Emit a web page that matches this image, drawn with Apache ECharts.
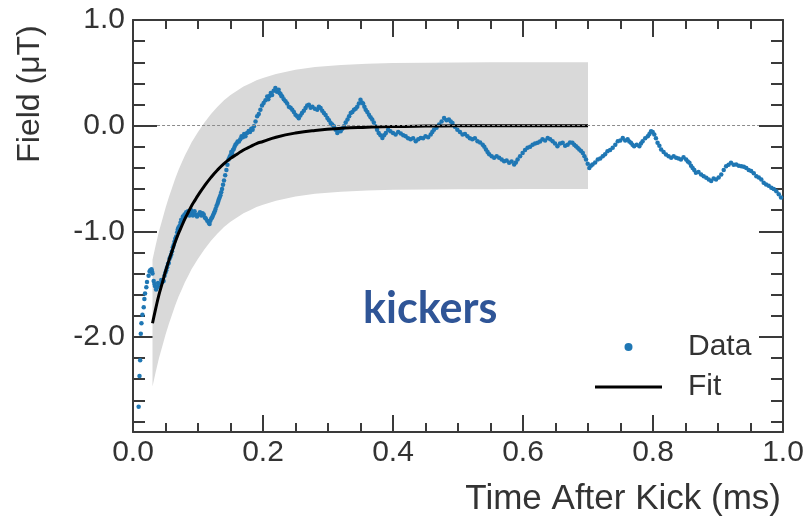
<!DOCTYPE html>
<html>
<head>
<meta charset="utf-8">
<title>Field after kick</title>
<script src="https://cdn.jsdelivr.net/npm/echarts@6/dist/echarts.min.js"></script>
<style>
  html, body { margin: 0; padding: 0; background: #ffffff; }
  #chart { width: 808px; height: 522px; }
</style>
</head>
<body>
<div id="chart"></div>
<script>
// Measured field trace after the kick: [time (ms), field (µT)]
const fieldTrace = [
  [0.0087, -2.66], [0.0100, -2.37], [0.0110, -2.22], [0.0120, -1.97], [0.0130, -1.87],
  [0.0145, -1.79], [0.0165, -1.72], [0.0175, -1.64], [0.0185, -1.59], [0.0205, -1.53],
  [0.0215, -1.48], [0.0240, -1.42], [0.0255, -1.38], [0.0265, -1.37], [0.0285, -1.36],
  [0.0292, -1.38], [0.0300, -1.40], [0.0318, -1.47], [0.0330, -1.50], [0.0340, -1.52],
  [0.0355, -1.55], [0.0370, -1.53], [0.0385, -1.49], [0.0400, -1.51], [0.0420, -1.50],
  [0.0435, -1.46], [0.0450, -1.48], [0.0470, -1.47], [0.0485, -1.42], [0.0500, -1.39],
  [0.0512, -1.37], [0.0525, -1.34], [0.0538, -1.31], [0.0550, -1.30], [0.0562, -1.26],
  [0.0575, -1.24], [0.0588, -1.22], [0.0600, -1.19], [0.0613, -1.15], [0.0626, -1.13],
  [0.0638, -1.10], [0.0650, -1.07], [0.0665, -1.05], [0.0680, -1.01], [0.0690, -0.98],
  [0.0700, -0.965], [0.0715, -0.95], [0.0730, -0.92], [0.0742, -0.89], [0.0755, -0.89],
  [0.0768, -0.86], [0.0780, -0.87], [0.0793, -0.84], [0.0806, -0.86], [0.0818, -0.82],
  [0.0830, -0.84], [0.0845, -0.81], [0.0857, -0.825], [0.0868, -0.85], [0.0880, -0.83],
  [0.0895, -0.80], [0.0910, -0.82], [0.0922, -0.85], [0.0934, -0.83], [0.0947, -0.81],
  [0.0960, -0.84], [0.0985, -0.86], [0.1010, -0.84], [0.1030, -0.82], [0.1050, -0.85],
  [0.1070, -0.83], [0.1088, -0.84], [0.1105, -0.87], [0.1120, -0.88], [0.1142, -0.90],
  [0.1165, -0.92], [0.1178, -0.93], [0.1190, -0.90], [0.1204, -0.88], [0.1217, -0.87],
  [0.1230, -0.85], [0.1245, -0.83], [0.1258, -0.81], [0.1270, -0.79], [0.1285, -0.76],
  [0.1300, -0.74], [0.1310, -0.72], [0.1320, -0.70], [0.1332, -0.68], [0.1345, -0.66],
  [0.1357, -0.63], [0.1370, -0.60], [0.1385, -0.56], [0.1400, -0.52], [0.1418, -0.47],
  [0.1437, -0.42], [0.1453, -0.37], [0.1470, -0.32], [0.1485, -0.30], [0.1500, -0.28],
  [0.1512, -0.25], [0.1525, -0.26], [0.1538, -0.23], [0.1550, -0.22], [0.1563, -0.20],
  [0.1576, -0.18], [0.1593, -0.17], [0.1610, -0.15], [0.1630, -0.15], [0.1650, -0.13],
  [0.1670, -0.10], [0.1690, -0.11], [0.1710, -0.08], [0.1730, -0.10], [0.1755, -0.07],
  [0.1780, -0.05], [0.1800, -0.06], [0.1820, -0.03], [0.1840, -0.04], [0.1860, -0.006],
  [0.1885, 0.04], [0.1910, 0.088], [0.1935, 0.11], [0.1960, 0.15], [0.1985, 0.19],
  [0.2010, 0.214], [0.2038, 0.24], [0.2065, 0.276], [0.2082, 0.25], [0.2100, 0.28],
  [0.2120, 0.31], [0.2140, 0.29], [0.2165, 0.33], [0.2190, 0.356], [0.2215, 0.32],
  [0.2240, 0.34], [0.2255, 0.31], [0.2270, 0.30], [0.2283, 0.28], [0.2296, 0.276],
  [0.2320, 0.25], [0.2347, 0.23], [0.2372, 0.21], [0.2398, 0.18], [0.2424, 0.17],
  [0.2450, 0.15], [0.2475, 0.13], [0.2500, 0.104], [0.2525, 0.09], [0.2550, 0.07],
  [0.2575, 0.095], [0.2600, 0.12], [0.2628, 0.14], [0.2655, 0.167], [0.2680, 0.19],
  [0.2706, 0.198], [0.2733, 0.17], [0.2760, 0.18], [0.2798, 0.16], [0.2835, 0.15],
  [0.2860, 0.18], [0.2886, 0.167], [0.2911, 0.14], [0.2937, 0.12], [0.2963, 0.10],
  [0.2990, 0.073], [0.3015, 0.05], [0.3040, 0.025], [0.3065, 0.01], [0.3090, -0.006],
  [0.3117, -0.04], [0.3143, -0.07], [0.3168, -0.05], [0.3194, -0.054], [0.3220, -0.03],
  [0.3245, -0.006], [0.3272, 0.03], [0.3300, 0.057], [0.3325, 0.09], [0.3350, 0.12],
  [0.3375, 0.13], [0.3400, 0.15], [0.3425, 0.16], [0.3450, 0.18], [0.3475, 0.21],
  [0.3500, 0.245], [0.3520, 0.22], [0.3540, 0.21], [0.3560, 0.18], [0.3580, 0.15],
  [0.3605, 0.13], [0.3630, 0.104], [0.3655, 0.08], [0.3680, 0.057], [0.3705, 0.03],
  [0.3730, -0.006], [0.3755, -0.04], [0.3780, -0.07], [0.3808, -0.09], [0.3837, -0.116],
  [0.3863, -0.09], [0.3890, -0.07], [0.3925, -0.04], [0.3960, -0.054], [0.4000, -0.07],
  [0.4040, -0.085], [0.4080, -0.06], [0.4120, -0.075], [0.4158, -0.09], [0.4195, -0.10],
  [0.4232, -0.12], [0.4270, -0.13], [0.4310, -0.12], [0.4350, -0.148], [0.4388, -0.13],
  [0.4427, -0.116], [0.4463, -0.12], [0.4500, -0.10], [0.4540, -0.11], [0.4580, -0.085],
  [0.4605, -0.06], [0.4630, -0.038], [0.4670, -0.02], [0.4710, 0.01], [0.4748, 0.04],
  [0.4786, 0.073], [0.4823, 0.05], [0.4860, 0.057], [0.4888, 0.04], [0.4915, 0.025],
  [0.4952, -0.01], [0.4990, -0.038], [0.5030, -0.06], [0.5070, -0.085], [0.5108, -0.08],
  [0.5146, -0.10], [0.5183, -0.12], [0.5220, -0.13], [0.5260, -0.12], [0.5300, -0.148],
  [0.5340, -0.16], [0.5380, -0.18], [0.5405, -0.20], [0.5430, -0.226], [0.5455, -0.25],
  [0.5480, -0.27], [0.5518, -0.29], [0.5556, -0.305], [0.5595, -0.29], [0.5633, -0.305],
  [0.5672, -0.32], [0.5710, -0.337], [0.5748, -0.33], [0.5787, -0.352], [0.5825, -0.34],
  [0.5864, -0.368], [0.5890, -0.35], [0.5917, -0.32], [0.5955, -0.29], [0.5994, -0.258],
  [0.6032, -0.23], [0.6070, -0.21], [0.6110, -0.20], [0.6148, -0.18], [0.6186, -0.17],
  [0.6225, -0.163], [0.6262, -0.15], [0.6300, -0.13], [0.6340, -0.14], [0.6380, -0.116],
  [0.6418, -0.13], [0.6456, -0.148], [0.6493, -0.17], [0.6530, -0.195], [0.6570, -0.17],
  [0.6610, -0.163], [0.6648, -0.19], [0.6687, -0.18], [0.6723, -0.16], [0.6760, -0.163],
  [0.6788, -0.18], [0.6815, -0.195], [0.6840, -0.21], [0.6866, -0.226], [0.6893, -0.24],
  [0.6920, -0.258], [0.6945, -0.29], [0.6970, -0.32], [0.6995, -0.36], [0.7020, -0.40],
  [0.7045, -0.38], [0.7070, -0.368], [0.7110, -0.35], [0.7150, -0.32], [0.7188, -0.31],
  [0.7227, -0.29], [0.7263, -0.27], [0.7300, -0.242], [0.7340, -0.23], [0.7380, -0.21],
  [0.7420, -0.18], [0.7458, -0.148], [0.7497, -0.14], [0.7535, -0.116], [0.7572, -0.14],
  [0.7610, -0.13], [0.7635, -0.15], [0.7660, -0.163], [0.7685, -0.18], [0.7710, -0.195],
  [0.7750, -0.18], [0.7790, -0.195], [0.7815, -0.17], [0.7840, -0.148], [0.7880, -0.12],
  [0.7920, -0.10], [0.7945, -0.08], [0.7970, -0.054], [0.7995, -0.06], [0.8020, -0.085],
  [0.8045, -0.12], [0.8070, -0.163], [0.8098, -0.19], [0.8125, -0.226], [0.8163, -0.25],
  [0.8200, -0.274], [0.8240, -0.29], [0.8280, -0.305], [0.8318, -0.29], [0.8356, -0.305],
  [0.8393, -0.31], [0.8430, -0.32], [0.8470, -0.30], [0.8510, -0.32], [0.8535, -0.34],
  [0.8560, -0.352], [0.8585, -0.38], [0.8610, -0.40], [0.8635, -0.42], [0.8660, -0.446],
  [0.8700, -0.44], [0.8740, -0.462], [0.8780, -0.48], [0.8820, -0.493], [0.8858, -0.51],
  [0.8895, -0.525], [0.8933, -0.50], [0.8970, -0.51], [0.9010, -0.49], [0.9050, -0.462],
  [0.9088, -0.42], [0.9125, -0.384], [0.9163, -0.37], [0.9200, -0.352], [0.9240, -0.37],
  [0.9280, -0.368], [0.9320, -0.38], [0.9360, -0.384], [0.9398, -0.39], [0.9435, -0.40],
  [0.9473, -0.42], [0.9510, -0.43], [0.9550, -0.45], [0.9590, -0.478], [0.9628, -0.49],
  [0.9666, -0.51], [0.9703, -0.54], [0.9740, -0.557], [0.9780, -0.57], [0.9820, -0.588],
  [0.9858, -0.60], [0.9897, -0.62], [0.9935, -0.65], [0.9970, -0.68]
];

// Exponential recovery fit and its uncertainty band
const fitTime  = [0.030, 0.035, 0.040, 0.045, 0.050, 0.055, 0.060, 0.065, 0.070, 0.075,
                  0.080, 0.085, 0.090, 0.095, 0.100, 0.110, 0.120, 0.130, 0.140, 0.150,
                  0.160, 0.170, 0.180, 0.190, 0.200, 0.220, 0.250, 0.280, 0.320, 0.360,
                  0.400, 0.450, 0.500, 0.550, 0.600, 0.700];
const fitValue = [-1.87, -1.73, -1.60, -1.49, -1.38, -1.28, -1.19, -1.10, -1.02, -0.95,
                  -0.88, -0.82, -0.76, -0.71, -0.66, -0.57, -0.49, -0.42, -0.36, -0.31,
                  -0.27, -0.23, -0.20, -0.17, -0.15, -0.11, -0.07, -0.045, -0.025, -0.015,
                  -0.008, -0.004, -0.002, -0.001, 0.0, 0.0];
const bandUpper = [-1.27, -1.13, -1.00, -0.89, -0.78, -0.68, -0.59, -0.50, -0.42, -0.35,
                   -0.28, -0.22, -0.16, -0.11, -0.06, 0.03, 0.11, 0.18, 0.24, 0.29,
                   0.33, 0.37, 0.40, 0.43, 0.45, 0.49, 0.53, 0.555, 0.575, 0.585,
                   0.592, 0.596, 0.598, 0.599, 0.60, 0.60];
const bandLower = [-2.47, -2.33, -2.20, -2.09, -1.98, -1.88, -1.79, -1.70, -1.62, -1.55,
                   -1.48, -1.42, -1.36, -1.31, -1.26, -1.17, -1.09, -1.02, -0.96, -0.91,
                   -0.87, -0.83, -0.80, -0.77, -0.75, -0.71, -0.67, -0.645, -0.625, -0.615,
                   -0.608, -0.604, -0.602, -0.601, -0.60, -0.60];

// Axis ticks
const yLabelValues = [-2.0, -1.0, 0.0, 1.0];
const yMinorTicks = [-2.8, -2.6, -2.4, -2.2, -1.8, -1.6, -1.4, -1.2,
                     -0.8, -0.6, -0.4, -0.2, 0.2, 0.4, 0.6, 0.8];

const AXIS_COLOR = '#3a3a3a';
const LABEL_COLOR = '#333333';
const FONT = "'Liberation Sans', Arial, Helvetica, sans-serif";

const fitData = fitTime.map((t, i) => [t, fitValue[i]]);
const bandData = fitTime.map((t, i) => [t, bandLower[i], bandUpper[i]]);

const chart = echarts.init(document.getElementById('chart'), null, { renderer: 'canvas' });

function xAxisDef(position, showLabels) {
  return {
    type: 'value', position: position, min: 0, max: 1, interval: 0.2,
    axisLine: { show: true, onZero: false, lineStyle: { color: AXIS_COLOR, width: 2 } },
    axisTick: { show: true, inside: true, length: 17, lineStyle: { color: AXIS_COLOR, width: 2 } },
    minorTick: { show: true, splitNumber: 4, length: 9, lineStyle: { color: AXIS_COLOR, width: 2 } },
    splitLine: { show: false },
    axisLabel: {
      show: showLabels, margin: 6, fontSize: 30, color: LABEL_COLOR, fontFamily: FONT,
      formatter: v => v.toFixed(1)
    }
  };
}

function yAxisDef(position, ticks, len, showLabels, showLine) {
  return {
    type: 'value', position: position, min: -2.9, max: 1.0,
    axisLine: { show: showLine, onZero: false, lineStyle: { color: AXIS_COLOR, width: 2 } },
    axisTick: { show: true, inside: true, length: len, customValues: ticks,
                lineStyle: { color: AXIS_COLOR, width: 2 } },
    splitLine: { show: false },
    axisLabel: {
      show: showLabels, customValues: yLabelValues, margin: 8, fontSize: 30,
      color: LABEL_COLOR, fontFamily: FONT, formatter: v => v.toFixed(1)
    }
  };
}

const option = {
  backgroundColor: '#ffffff',
  animation: false,
  grid: { left: 133, right: 25, top: 20, bottom: 90, containLabel: false },
  title: {
    text: 'kickers', left: 358, top: 283,
    textStyle: { fontFamily: 'Lato, "Open Sans", sans-serif', fontWeight: 'bold', fontSize: 43, color: '#2f5597' }
  },
  legend: {
    orient: 'vertical', left: 590, top: 327, itemWidth: 67, itemHeight: 8, itemGap: 10,
    data: [
      { name: 'Data' },
      { name: 'Fit', icon: 'path://M0,0 L67,0 L67,3 L0,3 Z', itemStyle: { color: '#000000' } }
    ],
    textStyle: { fontSize: 30, color: LABEL_COLOR, fontFamily: FONT, padding: [0, 0, 0, 21] }
  },
  xAxis: [xAxisDef('bottom', true), xAxisDef('top', false)],
  yAxis: [
    yAxisDef('left', yLabelValues, 24, true, true),
    yAxisDef('left', yMinorTicks, 12, false, false),
    yAxisDef('right', yLabelValues, 24, false, true),
    yAxisDef('right', yMinorTicks, 12, false, false)
  ],
  graphic: [
    {
      type: 'text', x: 30, y: 94, rotation: Math.PI / 2,
      style: { text: 'Field (\u03bcT)', font: "32px " + FONT, fill: LABEL_COLOR,
               textAlign: 'center', textVerticalAlign: 'middle' }
    },
    {
      type: 'text', x: 781, y: 499,
      style: { text: 'Time After Kick (ms)', font: "35px " + FONT, fill: LABEL_COLOR,
               textAlign: 'right', textVerticalAlign: 'middle' }
    }
  ],
  series: [
    {
      name: 'Band', type: 'custom', xAxisIndex: 0, yAxisIndex: 0, z: 1,
      data: bandData, silent: true,
      renderItem: function (params, api) {
        if (params.dataIndex !== 0) return null;
        const pts = [];
        for (let i = 0; i < bandData.length; i++) pts.push(api.coord([bandData[i][0], bandData[i][2]]));
        for (let i = bandData.length - 1; i >= 0; i--) pts.push(api.coord([bandData[i][0], bandData[i][1]]));
        return { type: 'polygon', shape: { points: pts }, style: { fill: '#d9d9d9' } };
      },
      markLine: {
        silent: true, symbol: 'none', label: { show: false },
        lineStyle: { color: '#8c8c8c', width: 1, type: [3, 2] },
        data: [[{ coord: [0.037, 0] }, { coord: [0.963, 0] }]]
      }
    },
    {
      name: 'Data', type: 'scatter', xAxisIndex: 0, yAxisIndex: 0, z: 3,
      data: fieldTrace, symbol: 'circle', symbolSize: 4.5,
      itemStyle: { color: '#1f77b4', opacity: 1 }
    },
    {
      name: 'Fit', type: 'line', xAxisIndex: 0, yAxisIndex: 0, z: 4,
      data: fitData, smooth: true, symbol: 'none', showSymbol: false,
      lineStyle: { color: '#000000', width: 3 },
      itemStyle: { color: '#000000' }
    }
  ]
};

chart.setOption(option);
</script>
</body>
</html>
